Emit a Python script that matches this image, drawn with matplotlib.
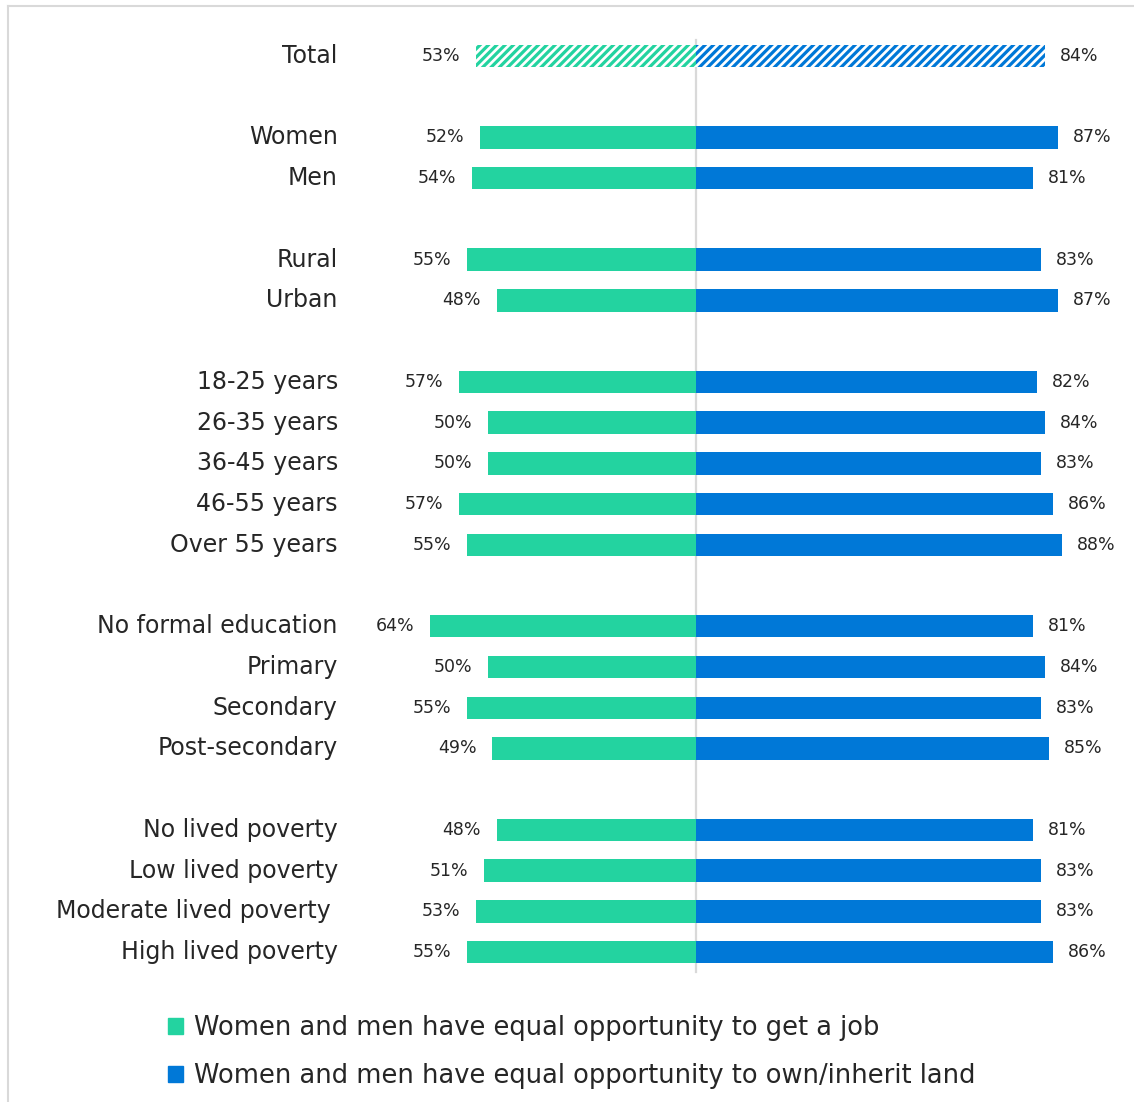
import matplotlib.pyplot as plt
from matplotlib.patches import Patch
from matplotlib.lines import Line2D

plt.rcParams['font.family'] = 'DejaVu Sans'
plt.rcParams['hatch.linewidth'] = 2.3

# row positions: groups separated by one empty row
labels = ['Total',
          'Women', 'Men',
          'Rural', 'Urban',
          '18-25 years', '26-35 years', '36-45 years', '46-55 years', 'Over 55 years',
          'No formal education', 'Primary', 'Secondary', 'Post-secondary',
          'No lived poverty', 'Low lived poverty', 'Moderate lived poverty ', 'High lived poverty']
rows = [0, 2, 3, 5, 6, 8, 9, 10, 11, 12, 14, 15, 16, 17, 19, 20, 21, 22]

job = [53, 52, 54, 55, 48, 57, 50, 50, 57, 55, 64, 50, 55, 49, 48, 51, 53, 55]
land = [84, 87, 81, 83, 87, 82, 84, 83, 86, 88, 81, 84, 83, 85, 81, 83, 83, 86]

green = '#23D3A0'
blue = '#0078D7'
txt = '#262626'

fig = plt.figure(figsize=(11.34, 11.02), dpi=100)
ax = fig.add_axes([0, 0, 1, 1])
ax.axis('off')
ax.set_xlim(-167.5, 105.4)
ax.set_ylim(25.68, -1.375)

h = 0.55
for i, (lab, r, g, b) in enumerate(zip(labels, rows, job, land)):
    if i == 0:
        ax.barh(r, -g, height=h, color='white', edgecolor=green, hatch='////', linewidth=0)
        ax.barh(r, b, height=h, color='white', edgecolor=blue, hatch='////', linewidth=0)
    else:
        ax.barh(r, -g, height=h, color=green)
        ax.barh(r, b, height=h, color=blue)
    ax.text(-86.2, r, lab, ha='right', va='center', fontsize=17, color=txt)
    ax.text(-g - 3.8, r, f'{g}%', ha='right', va='center', fontsize=12.5, color=txt)
    ax.text(b + 3.6, r, f'{b}%', ha='left', va='center', fontsize=12.5, color=txt)

# centre divider
ax.plot([0, 0], [-0.4, 22.5], color='#d9d9d9', lw=1.6, zorder=0)

# outer frame (left and top edges)
fig.add_artist(Line2D([8 / 1134, 8 / 1134], [0, 1 - 6 / 1102], color='#d9d9d9', lw=1.5))
fig.add_artist(Line2D([8 / 1134, 1], [1 - 6 / 1102, 1 - 6 / 1102], color='#d9d9d9', lw=1.5))

handles = [Patch(color=green, label='Women and men have equal opportunity to get a job'),
           Patch(color=blue, label='Women and men have equal opportunity to own/inherit land')]
leg = ax.legend(handles=handles, loc='upper left', bbox_to_anchor=(168 / 1134, 1 - 1015 / 1102),
                bbox_transform=fig.transFigure, frameon=False, fontsize=18.5,
                handlelength=0.6, handleheight=0.6, handletextpad=0.4,
                labelspacing=0.85, borderpad=0, borderaxespad=0)
for t in leg.get_texts():
    t.set_color(txt)

fig.savefig('out.png', dpi=100)
